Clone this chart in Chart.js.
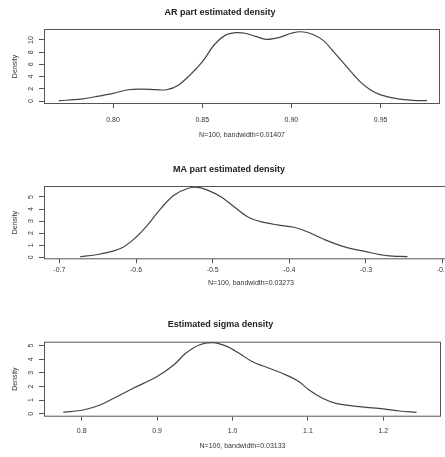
<!DOCTYPE html>
<html>
<head>
<meta charset="utf-8">
<script src="https://cdn.jsdelivr.net/npm/chart.js@4.4.1/dist/chart.umd.min.js"></script>
<style>
  html, body { margin: 0; padding: 0; background: #fff; overflow: hidden; width: 445px; height: 457px; }
  .panel { position: absolute; left: 0; }
</style>
</head>
<body>
<div class="panel" style="top:0px;width:445px;height:150px"><canvas id="c1"></canvas></div>
<div class="panel" style="top:150px;width:470px;height:150px"><canvas id="c2"></canvas></div>
<div class="panel" style="top:300px;width:445px;height:157px"><canvas id="c3"></canvas></div>
<script>
// AR part density
const arX = [0.7696, 0.782, 0.790, 0.800, 0.8085, 0.816, 0.824, 0.830, 0.8366, 0.844, 0.850, 0.857, 0.863, 0.869, 0.874, 0.880, 0.886, 0.893, 0.900, 0.9056, 0.912, 0.918, 0.923, 0.931, 0.938, 0.944, 0.950, 0.9607, 0.968, 0.976];
const arY = [0.05, 0.3, 0.7, 1.26, 1.85, 1.95, 1.87, 1.85, 2.6, 4.5, 6.4, 9.3, 10.8, 11.2, 11.1, 10.6, 10.1, 10.4, 11.1, 11.35, 10.9, 9.9, 8.3, 5.6, 3.3, 1.9, 1.0, 0.3, 0.12, 0.05];
const arXTicks = [0.80, 0.85, 0.90, 0.95];
const arXLabels = ['0.80', '0.85', '0.90', '0.95'];
const arYTicks = [0, 2, 4, 6, 8, 10];

// MA part density
const maX = [-0.6727, -0.6466, -0.6195, -0.600, -0.5848, -0.5675, -0.5501, -0.5327, -0.5197, -0.5067, -0.4893, -0.472, -0.4547, -0.4373, -0.4156, -0.394, -0.3766, -0.355, -0.329, -0.300, -0.2727, -0.2459];
const maY = [0.05, 0.27, 0.74, 1.66, 2.68, 4.06, 5.16, 5.7, 5.8, 5.57, 5.02, 4.19, 3.36, 2.95, 2.68, 2.49, 2.12, 1.49, 0.88, 0.46, 0.13, 0.05];
const maXTicks = [-0.7, -0.6, -0.5, -0.4, -0.3, -0.2];
const maXLabels = ['-0.7', '-0.6', '-0.5', '-0.4', '-0.3', '-0.2'];
const maYTicks = [0, 1, 2, 3, 4, 5];

// sigma density
const sgX = [0.7756, 0.802, 0.8243, 0.8464, 0.8684, 0.8995, 0.922, 0.938, 0.9558, 0.9735, 0.991, 1.0088, 1.0265, 1.0486, 1.0707, 1.0883, 1.1016, 1.1194, 1.137, 1.159, 1.177, 1.200, 1.222, 1.244];
const sgY = [0.1, 0.27, 0.64, 1.25, 1.87, 2.72, 3.58, 4.44, 5.05, 5.22, 4.98, 4.44, 3.82, 3.34, 2.85, 2.35, 1.74, 1.13, 0.76, 0.57, 0.47, 0.35, 0.2, 0.1];
const sgXTicks = [0.8, 0.9, 1.0, 1.1, 1.2];
const sgXLabels = ['0.8', '0.9', '1.0', '1.1', '1.2'];
const sgYTicks = [0, 1, 2, 3, 4, 5];

const FONT = "'Liberation Sans', Arial, sans-serif";
const INK = '#333';

// box around plot area + y tick labels written sideways like R does
const rStyle = {
  id: 'rStyle',
  afterDraw(chart) {
    const ctx = chart.ctx, a = chart.chartArea, ys = chart.scales.y;
    ctx.save();
    ctx.strokeStyle = '#555';
    ctx.lineWidth = 1;
    ctx.strokeRect(a.left + 0.5, a.top + 0.5, a.right - a.left - 1, a.bottom - a.top - 1);
    ctx.fillStyle = INK;
    ctx.font = '7px ' + FONT;
    ctx.textAlign = 'center';
    ctx.textBaseline = 'middle';
    ys.ticks.forEach(t => {
      ctx.save();
      ctx.translate(31.5, ys.getPixelForValue(t.value));
      ctx.rotate(-Math.PI / 2);
      ctx.fillText(String(t.value), 0, 0);
      ctx.restore();
    });
    ctx.restore();
  }
};

function makePanel(id, p) {
  const lh = 8.4;
  new Chart(document.getElementById(id), {
    type: 'line',
    data: {
      datasets: [{
        data: p.xs.map((x, i) => ({ x: x, y: p.ys[i] })),
        borderColor: '#444',
        borderWidth: 1.2,
        pointRadius: 0,
        fill: false,
        tension: 0.35
      }]
    },
    options: {
      responsive: true,
      maintainAspectRatio: false,
      animation: false,
      layout: { padding: { left: 0, right: p.width - p.boxRight, top: 0, bottom: 0 } },
      plugins: {
        legend: { display: false },
        tooltip: { enabled: false },
        title: {
          display: true,
          text: p.title,
          color: '#222',
          font: { family: FONT, size: 9, weight: 'bold' },
          padding: { top: p.titleY - 5.4, bottom: p.boxTop - p.titleY - 5.4 }
        }
      },
      scales: {
        x: {
          type: 'linear',
          min: p.xMin,
          max: p.xMax,
          border: { display: false },
          grid: { display: true, drawOnChartArea: false, drawTicks: true, tickLength: 4, color: '#555' },
          afterBuildTicks: s => { s.ticks = p.xTicks.map(v => ({ value: v })); },
          afterFit: s => { s.height = p.height - p.boxBottom; },
          ticks: {
            autoSkip: false,
            maxRotation: 0,
            color: INK,
            font: { family: FONT, size: 7 },
            padding: p.tickY - lh / 2 - p.boxBottom - 4,
            callback: (v, i) => p.xLabels[i]
          },
          title: {
            display: true,
            text: p.xlabel,
            color: INK,
            font: { family: FONT, size: 7 },
            padding: { top: 0, bottom: p.height - p.xlabelY - lh / 2 }
          }
        },
        y: {
          type: 'linear',
          min: p.yMin,
          max: p.yMax,
          border: { display: false },
          grid: { display: true, drawOnChartArea: false, drawTicks: true, tickLength: 5, color: '#555' },
          afterBuildTicks: s => { s.ticks = p.yTicks.map(v => ({ value: v })); },
          afterFit: s => { s.width = 44; },
          ticks: { display: true, color: 'rgba(0,0,0,0)', font: { family: FONT, size: 7 } },
          title: {
            display: true,
            text: 'Density',
            color: INK,
            font: { family: FONT, size: 7 },
            padding: { top: 15 - lh / 2, bottom: 0 }
          }
        }
      }
    },
    plugins: [rStyle]
  });
}

makePanel('c1', {
  xs: arX, ys: arY, xTicks: arXTicks, xLabels: arXLabels, yTicks: arYTicks,
  title: 'AR part estimated density', xlabel: 'N=100, bandwidth=0.01407',
  width: 445, height: 150, boxRight: 440, boxTop: 29, boxBottom: 104,
  titleY: 13, tickY: 120.3, xlabelY: 135.3,
  xMin: 0.7613, xMax: 0.9833, yMin: -0.49, yMax: 11.8
});

makePanel('c2', {
  xs: maX, ys: maY, xTicks: maXTicks, xLabels: maXLabels, yTicks: maYTicks,
  title: 'MA part estimated density', xlabel: 'N=100, bandwidth=0.03273',
  width: 470, height: 150, boxRight: 458, boxTop: 36, boxBottom: 109.3,
  titleY: 19.3, tickY: 120.5, xlabelY: 133.3,
  xMin: -0.72, xMax: -0.18, yMin: -0.17, yMax: 5.91
});

makePanel('c3', {
  xs: sgX, ys: sgY, xTicks: sgXTicks, xLabels: sgXLabels, yTicks: sgYTicks,
  title: 'Estimated sigma density', xlabel: 'N=100, bandwidth=0.03133',
  width: 445, height: 157, boxRight: 441, boxTop: 41.7, boxBottom: 116.7,
  titleY: 25, tickY: 130.7, xlabelY: 145.7,
  xMin: 0.75, xMax: 1.2765, yMin: -0.22, yMax: 5.29
});
</script>
</body>
</html>
